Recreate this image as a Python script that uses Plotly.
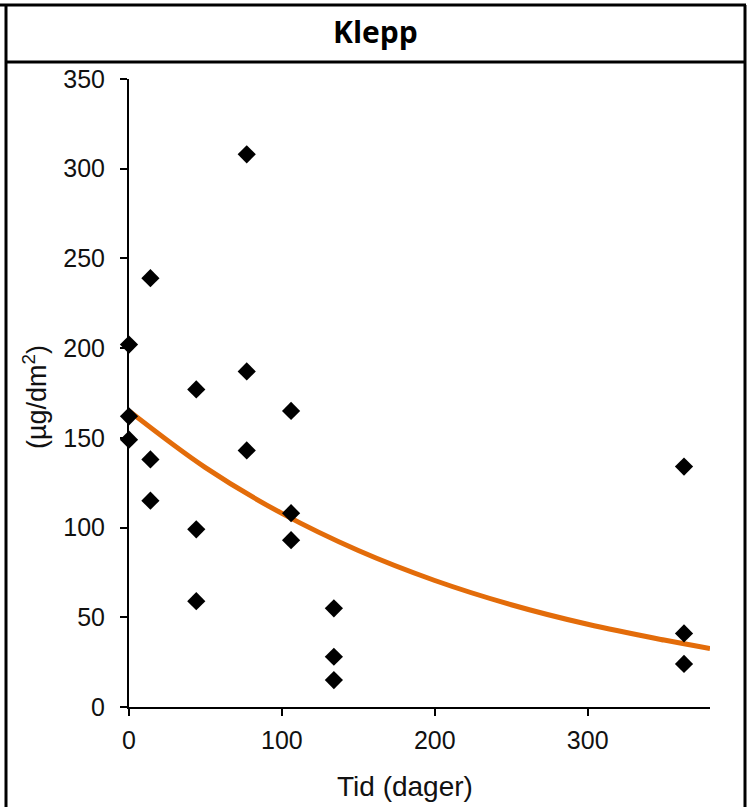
import plotly.graph_objects as go

# ---- data ----
days = [0, 0, 0, 14, 14, 14, 44, 44, 44, 77, 77, 77, 106, 106, 106, 134, 134, 134, 363, 363, 363]
conc = [202, 162, 149, 239, 138, 115, 177, 99, 59, 308, 187, 143, 165, 108, 93, 55, 28, 15, 134, 41, 24]

trend_x = [0, 50, 100, 150, 200, 250, 300, 350, 380]
trend_y = [165, 133.4, 107.9, 87.2, 70.5, 57.0, 46.1, 37.3, 32.6]

x_ticks = [0, 100, 200, 300]
y_ticks = [0, 50, 100, 150, 200, 250, 300, 350]

title_text = "Klepp"
x_title = "Tid (dager)"
y_title = "(µg/dm<sup>2</sup>)"

# ---- layout geometry (pixels) ----
W, H = 752, 807
L, R, T, B = 129, 42, 79, 100
PW, PH = W - L - R, H - T - B


def px(xp):
    return (xp - L) / PW


def py(yp):
    return (H - B - yp) / PH


FONT = "Liberation Sans"

fig = go.Figure()
fig.add_trace(go.Scatter(
    x=trend_x, y=trend_y, mode="lines",
    line=dict(color="#E36C0A", width=5, shape="spline"),
    hoverinfo="skip", showlegend=False,
))
fig.add_trace(go.Scatter(
    x=days, y=conc, mode="markers",
    marker=dict(symbol="diamond", size=14, color="black", line=dict(width=0)),
    showlegend=False, cliponaxis=False,
))

axis_common = dict(
    showgrid=False, zeroline=False, showline=True, linecolor="black", linewidth=2,
    ticks="outside", ticklen=7, tickwidth=2, tickcolor="black",
    tickfont=dict(family=FONT, size=25, color="#111111"),
)

fig.update_xaxes(range=[0, 380], tickvals=x_ticks, ticklabelstandoff=3, **axis_common)
fig.update_yaxes(range=[0, 350], tickvals=y_ticks, ticklabelstandoff=10, **axis_common)

shapes = []
lw = 3
# outer frame and header line
shapes.append(dict(type="line", xref="paper", yref="paper", x0=px(0), x1=px(746), y0=py(5), y1=py(5),
                   line=dict(color="black", width=lw)))
shapes.append(dict(type="line", xref="paper", yref="paper", x0=px(6), x1=px(746), y0=py(62), y1=py(62),
                   line=dict(color="black", width=lw)))
shapes.append(dict(type="line", xref="paper", yref="paper", x0=px(6), x1=px(6), y0=py(5), y1=py(810),
                   line=dict(color="black", width=lw)))
shapes.append(dict(type="line", xref="paper", yref="paper", x0=px(745), x1=px(745), y0=py(5), y1=py(810),
                   line=dict(color="black", width=lw)))

annotations = [
    dict(text="<b>%s</b>" % title_text, xref="paper", yref="paper", x=px(375), y=py(31),
         xanchor="center", yanchor="middle", showarrow=False,
         font=dict(family="Open Sans", size=30, color="black")),
    dict(text=x_title, xref="paper", yref="paper", x=px(405), y=py(786),
         xanchor="center", yanchor="middle", showarrow=False,
         font=dict(family=FONT, size=28, color="#111111")),
    dict(text=y_title, xref="paper", yref="paper", x=px(35), y=py(397),
         xanchor="center", yanchor="middle", showarrow=False, textangle=-90,
         font=dict(family=FONT, size=27, color="#111111")),
]

fig.update_layout(
    width=W, height=H,
    margin=dict(l=L, r=R, t=T, b=B),
    paper_bgcolor="white", plot_bgcolor="white",
    shapes=shapes, annotations=annotations,
    showlegend=False,
)

fig.write_html("out.html")
